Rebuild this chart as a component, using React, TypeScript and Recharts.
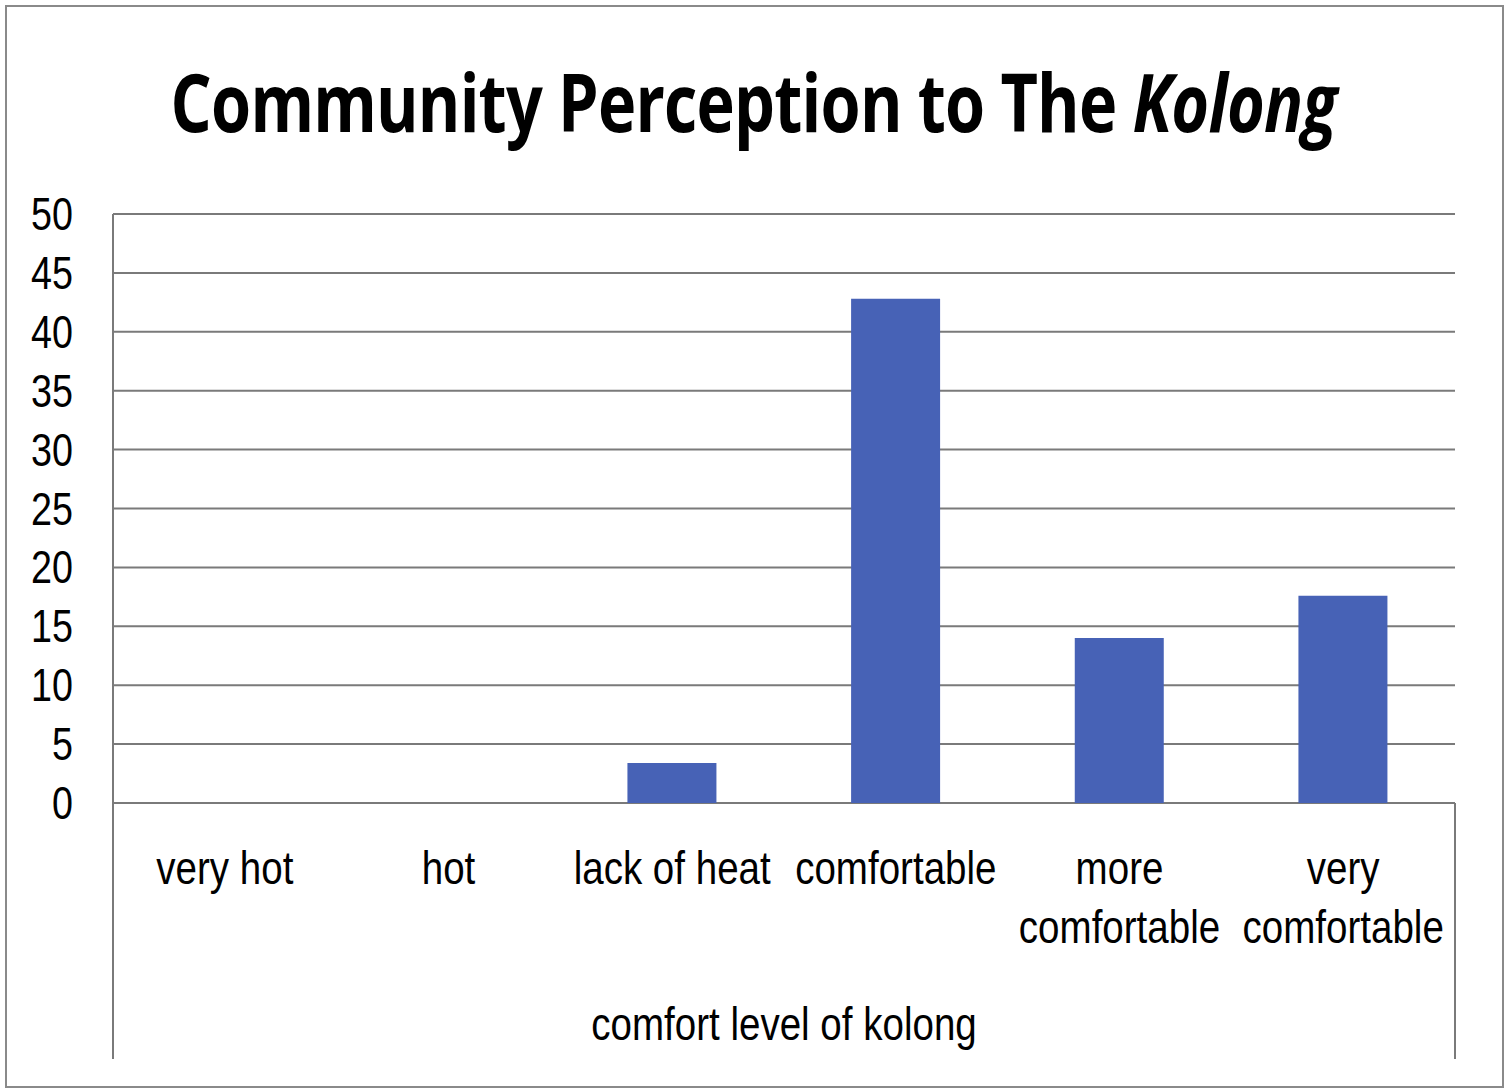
import { BarChart, Bar, XAxis, YAxis, CartesianGrid } from "recharts";

const categories = ["very hot", "hot", "lack of heat", "comfortable", "more comfortable", "very comfortable"];
const counts = [0, 0, 3.4, 42.8, 14, 17.6];
const yTicks = [0, 5, 10, 15, 20, 25, 30, 35, 40, 45, 50];
// how each category label wraps under the axis
const labelLines = [["very hot"], ["hot"], ["lack of heat"], ["comfortable"], ["more", "comfortable"], ["very", "comfortable"]];

const data = categories.map((name, i) => ({ name, value: counts[i] }));

const FONT = "'Liberation Sans', Arial, sans-serif";
const GRID = "#7a7a7a";
const SQUEEZE = 0.82; // reference text is a condensed face

const CategoryTick = ({ x, y, index }: any) => {
  const lines = labelLines[index] || [];
  return (
    <g transform={`translate(${x},${y}) scale(${SQUEEZE},1)`}>
      {lines.map((l, i) => (
        <text key={i} x={0} y={75 + i * 59} textAnchor="middle" fontFamily={FONT} fontSize={47} fill="#000">
          {l}
        </text>
      ))}
    </g>
  );
};

const ValueTick = ({ x, y, payload }: any) => (
  <g transform={`translate(${x},${y}) scale(${SQUEEZE},1)`}>
    <text x={0} y={16} textAnchor="end" fontFamily={FONT} fontSize={46} fill="#000">
      {payload.value}
    </text>
  </g>
);

const AxisTitle = ({ viewBox }: any) => {
  const cx = viewBox.x + viewBox.width / 2;
  return (
    <g transform={`translate(${cx},1040) scale(${SQUEEZE},1)`}>
      <text x={0} y={0} textAnchor="middle" fontFamily={FONT} fontSize={47} fill="#000">
        comfort level of kolong
      </text>
    </g>
  );
};

export default function App() {
  return (
    <div style={{ position: "absolute", left: 0, top: 0, width: 1508, height: 1091, background: "#fff" }}>
      <div
        style={{
          position: "absolute",
          left: 5,
          top: 5,
          width: 1495,
          height: 1079,
          border: "2px solid #8a8a8a",
        }}
      />
      <div
        style={{
          position: "absolute",
          left: 0,
          top: 46,
          width: 1508,
          textAlign: "center",
          fontFamily: "'Open Sans', sans-serif",
          fontWeight: 700,
          fontSize: 81,
          letterSpacing: -1,
          color: "#000",
          lineHeight: "110px",
          transform: "scaleX(0.8)",
          transformOrigin: "752px 0",
          whiteSpace: "nowrap",
        }}
      >
        Community Perception to The <i>Kolong</i>
      </div>
      <div style={{ position: "absolute", left: 0, top: 0 }}>
        <BarChart width={1508} height={1091} data={data} margin={{ top: 214, right: 53, bottom: 0, left: 0 }} barCategoryGap="30%">
          <CartesianGrid horizontal vertical={false} stroke={GRID} strokeWidth={2} />
          <XAxis
            dataKey="name"
            axisLine={false}
            tickLine={false}
            interval={0}
            height={288}
            tickMargin={0}
            tick={<CategoryTick />}
            label={<AxisTitle />}
          />
          <YAxis
            width={113}
            domain={[0, 50]}
            ticks={yTicks}
            interval={0}
            axisLine={{ stroke: GRID, strokeWidth: 2 }}
            tickLine={false}
            tickMargin={0}
            tick={(p: any) => <ValueTick {...p} x={73} />}
          />
          <Bar dataKey="value" fill="#4762b6" isAnimationActive={false} />
        </BarChart>
      </div>
      <svg style={{ position: "absolute", left: 0, top: 0 }} width={1508} height={1091}>
        <line x1={113} y1={803} x2={113} y2={1059} stroke={GRID} strokeWidth={2} />
        <line x1={1455} y1={803} x2={1455} y2={1059} stroke={GRID} strokeWidth={2} />
      </svg>
    </div>
  );
}
